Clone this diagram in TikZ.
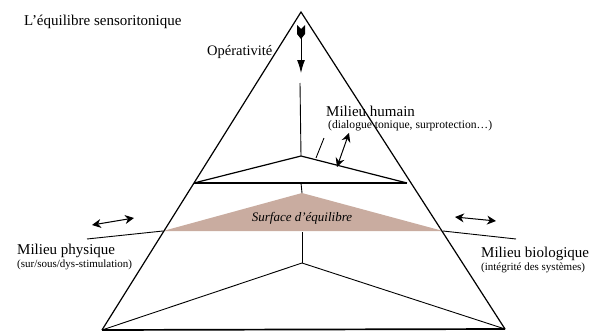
\documentclass[tikz,border=0pt]{standalone}
\usepackage{fontspec}
\setmainfont{Liberation Serif}
\usetikzlibrary{arrows.meta}

\definecolor{sable}{RGB}{201,172,160}

\tikzset{
  trait/.style={line width=1.2pt},
  fin/.style={line width=0.9pt},
  fleche/.style={line width=1pt,{Stealth[length=9pt,width=9pt]}-{Stealth[length=9pt,width=9pt]}},
  titre/.style={anchor=base west,inner sep=0pt,font=\fontsize{15}{17}\selectfont},
  sous/.style={anchor=base west,inner sep=0pt,font=\fontsize{11}{13}\selectfont},
}

\begin{document}
\begin{tikzpicture}[x=1pt,y=-1pt]
\useasboundingbox (0,0) rectangle (592,332);

% Surface d'equilibre
\coordinate (S) at (302,193);
\coordinate (SG) at (163,231);
\coordinate (SD) at (443,231);
\fill[sable] (S) -- (SG) -- (SD) -- cycle;
\node[inner sep=0pt,font=\fontsize{13}{15}\selectfont\itshape] (surf) at (302,218) {Surface d'équilibre};

% Pyramide
\coordinate (A) at (301,12);
\coordinate (BG) at (102,330);
\coordinate (BD) at (505,329);
\draw[trait] (BG) -- (A) -- (BD);
\draw[line width=1.7pt] (BG) -- (BD);

% Niveau du milieu humain
\coordinate (HG) at (194,183);
\coordinate (HD) at (407,183);
\coordinate (H) at (301,156);
\draw[trait] (HG) -- (HD);
\draw[trait] (HG) -- (H) -- (HD);
\draw[fin] (300,83) -- (H);
\draw[fin] (301,183) -- (S);
\draw[fin] (316,158) -- (324,138);
\draw[fleche] (337,167) -- (349,133);

% Plan d'equilibre
\coordinate (PG) at (87,239);
\coordinate (PD) at (516,239);
\draw[fin] (PG) -- (SG);
\draw[fin] (SD) -- (PD);
\draw[fleche] (92,225) -- (134,218);
\draw[fleche] (455,217) -- (496,221);

% Base
\coordinate (B) at (302,263);
\draw[fin] (302,232) -- (B);
\draw[fin] (BG) -- (B) -- (BD);

% Operativite
\fill (297,25) -- (301,29) -- (305,25) -- (305,34) -- (301,39) -- (297,34) -- cycle;
\draw[line width=1pt,-{Latex[length=13pt,width=8pt]}] (301,37) -- (301,73);

% Textes
\node[titre] (titre) at (24,25) {L'équilibre sensoritonique};
\node[titre,font=\fontsize{14.5}{17}\selectfont] (oper) at (207,55) {Opérativité};
\node[titre] (hum) at (326,116) {Milieu humain};
\node[sous,font=\fontsize{11.6}{13}\selectfont] (humb) at (328,128) {(dialogue tonique, surprotection\ldots)};
\node[titre] (phys) at (17,254) {Milieu physique};
\node[sous] (physb) at (17,267) {(sur/sous/dys-stimulation)};
\node[titre] (bio) at (481,257) {Milieu biologique};
\node[sous] (biob) at (481,270) {(intégrité des systèmes)};
\end{tikzpicture}
\end{document}
